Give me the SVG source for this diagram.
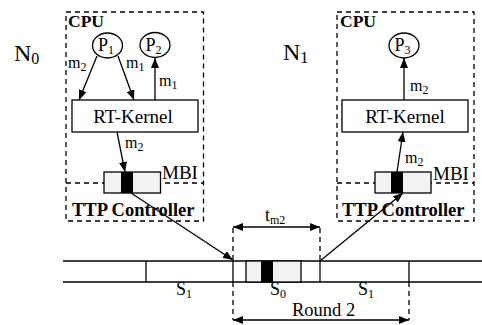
<svg xmlns="http://www.w3.org/2000/svg" width="482" height="325" viewBox="0 0 482 325" font-family="'Liberation Serif', 'DejaVu Serif', serif" font-size="18">
<style>
text{font-family:'Liberation Serif','DejaVu Serif',serif;fill:#000}
.b{font-weight:bold}
.sub{font-size:12px}
.dash{fill:none;stroke:#000;stroke-width:1.3;stroke-dasharray:5,4}
.ln{fill:none;stroke:#000;stroke-width:1.3}
.box{fill:#fff;stroke:#000;stroke-width:1.3}
.mbi{fill:#f2f2f2;stroke:#000;stroke-width:1.3}
.blk{fill:#000}
</style>
<defs>
<marker id="ah" viewBox="0 0 10 8" refX="10" refY="4" markerWidth="10" markerHeight="8" markerUnits="userSpaceOnUse" orient="auto-start-reverse">
<path d="M0,0 L10,4 L0,8 Z" fill="#000"/>
</marker>
</defs>

<g id="labels">
<text x="14" y="61" font-size="24">N<tspan font-size="16" dy="3">0</tspan></text>
<text x="283" y="60" font-size="24">N<tspan font-size="16" dy="3">1</tspan></text>
</g>

<g id="node-N0">
<rect class="dash" x="66" y="12" width="137.5" height="209"/>
<line class="dash" x1="66" y1="183" x2="203.5" y2="183"/>
<text class="b" x="68" y="27" font-size="17.5">CPU</text>
<text class="b" x="72" y="216" font-size="18.5">TTP Controller</text>
</g>
<g id="P1">
<ellipse class="box" cx="107.5" cy="45.5" rx="15" ry="12.5"/>
<text x="98" y="51">P<tspan class="sub" dy="3">1</tspan></text>
</g>
<g id="P2">
<ellipse class="box" cx="155" cy="45" rx="15" ry="12.5"/>
<text x="145.5" y="51">P<tspan class="sub" dy="3">2</tspan></text>
</g>
<g id="RTK0">
<rect class="box" x="72" y="100" width="126" height="32"/>
<text x="133" y="123" text-anchor="middle" font-size="19">RT-Kernel</text>
</g>
<g id="MBI0">
<rect class="mbi" x="104" y="172" width="56.5" height="21"/>
<rect class="blk" x="121" y="172" width="12" height="21"/>
<text x="162" y="179" font-size="19">MBI</text>
</g>

<g id="node-N1">
<rect class="dash" x="337" y="12" width="137" height="209"/>
<line class="dash" x1="337" y1="183" x2="474" y2="183"/>
<text class="b" x="340" y="27" font-size="17.5">CPU</text>
<text class="b" x="342" y="216" font-size="18.5">TTP Controller</text>
</g>
<g id="P3">
<ellipse class="box" cx="404" cy="45.5" rx="15" ry="12.5"/>
<text x="394.5" y="51">P<tspan class="sub" dy="3">3</tspan></text>
</g>
<g id="RTK1">
<rect class="box" x="342" y="100" width="126" height="32"/>
<text x="405" y="123" text-anchor="middle" font-size="19">RT-Kernel</text>
</g>
<g id="MBI1">
<rect class="mbi" x="375" y="172" width="56" height="21"/>
<rect class="blk" x="391" y="172" width="12" height="21"/>
<text x="433" y="180" font-size="19">MBI</text>
</g>

<g id="bus">
<line class="ln" x1="63" y1="261" x2="482" y2="261"/>
<line class="ln" x1="63" y1="282" x2="482" y2="282"/>
<rect x="246" y="261" width="55" height="21" fill="#f2f2f2" stroke="#000" stroke-width="1.3"/>
<rect class="blk" x="261" y="261" width="12" height="21"/>
<line class="ln" x1="146" y1="261" x2="146" y2="282"/>
<line class="ln" x1="233" y1="261" x2="233" y2="282"/>
<line class="ln" x1="320" y1="261" x2="320" y2="282"/>
<line class="ln" x1="409" y1="261" x2="409" y2="282"/>
<line class="dash" x1="233" y1="228" x2="233" y2="261"/>
<line class="dash" x1="233" y1="282" x2="233" y2="320"/>
<line class="dash" x1="320" y1="228" x2="320" y2="261"/>
<line class="dash" x1="409" y1="282" x2="409" y2="320"/>
<text x="176" y="295">S<tspan class="sub" dy="3">1</tspan></text>
<text x="270" y="295">S<tspan class="sub" dy="3">0</tspan></text>
<text x="358" y="295">S<tspan class="sub" dy="3">1</tspan></text>
<text x="265" y="221">t<tspan class="sub" dy="3">m2</tspan></text>
<text x="292" y="316" font-size="18.5">Round 2</text>
</g>

<g id="connectors">
<line class="ln" x1="97" y1="56" x2="79" y2="100" marker-end="url(#ah)"/>
<line class="ln" x1="118" y1="56" x2="134" y2="100" marker-end="url(#ah)"/>
<line class="ln" x1="155" y1="100" x2="155" y2="58" marker-end="url(#ah)"/>
<line class="ln" x1="117" y1="132" x2="125" y2="172" marker-end="url(#ah)"/>
<line class="ln" x1="131" y1="193" x2="233" y2="260" marker-end="url(#ah)"/>
<line class="ln" x1="320" y1="261" x2="403" y2="193" marker-end="url(#ah)"/>
<line class="ln" x1="397" y1="172" x2="403" y2="132" marker-end="url(#ah)"/>
<line class="ln" x1="404" y1="100" x2="404" y2="58" marker-end="url(#ah)"/>
<line class="ln" x1="233" y1="227" x2="320" y2="227" marker-start="url(#ah)" marker-end="url(#ah)"/>
<line class="ln" x1="233" y1="320" x2="409" y2="320" marker-start="url(#ah)" marker-end="url(#ah)"/>
<text x="68" y="68" font-size="16">m<tspan class="sub" dy="3">2</tspan></text>
<text x="126" y="68" font-size="16">m<tspan class="sub" dy="3">1</tspan></text>
<text x="159" y="86" font-size="16">m<tspan class="sub" dy="3">1</tspan></text>
<text x="125" y="148" font-size="16">m<tspan class="sub" dy="3">2</tspan></text>
<text x="410" y="91" font-size="16">m<tspan class="sub" dy="3">2</tspan></text>
<text x="405" y="163" font-size="16">m<tspan class="sub" dy="3">2</tspan></text>
</g>
</svg>
